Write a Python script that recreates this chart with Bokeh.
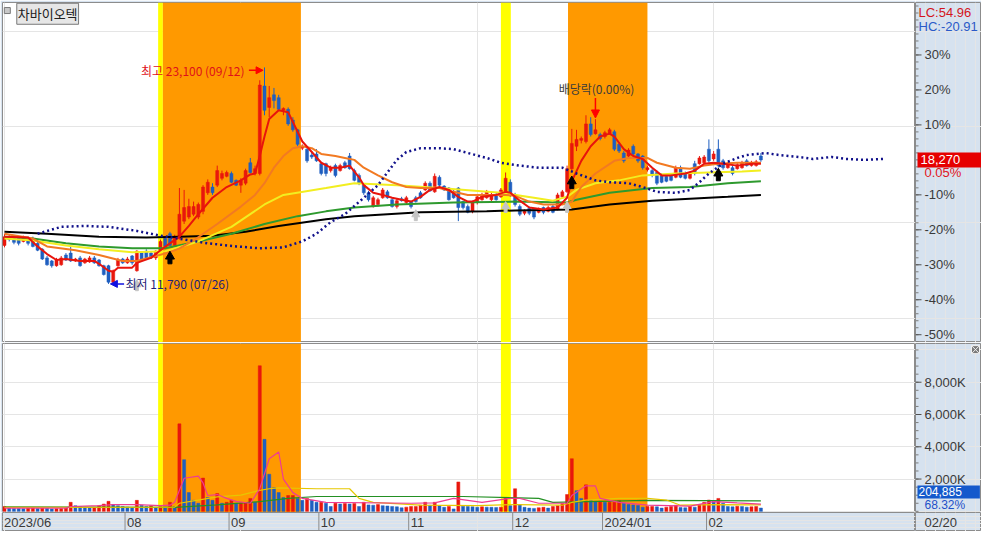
from bokeh.plotting import figure
from bokeh.models import Range1d, Arrow, NormalHead, BoxAnnotation, ColumnDataSource, Label
from bokeh.layouts import column, row
from bokeh.embed import file_html
from bokeh.resources import INLINE
from bokeh.core.properties import value

# ---------------- data ----------------
stock_name = "차바이오텍"
last_price = 18270
last_change_text = "0.05%"
last_volume = 204885
volume_ratio_text = "68.32%"
current_date = "02/20"

hi_idx, hi_val, hi_date = 55, 23100, "09/12"
lo_idx, lo_val, lo_date = 22, 11790, "07/26"
exdiv_idx, exdiv_text = 125, "배당락(0.00%)"

month_idx = [0, 26, 48, 67, 86, 108, 127, 149]
month_lbl = ["2023/06", "08", "09", "10", "11", "12", "2024/01", "02"]

pct_levels = [30, 20, 10, -10, -20, -30, -40, -50]
vol_levels = [2000000, 4000000, 6000000, 8000000]

open_ = [13800,14260,14160,14210,14010,14160,14160,13910,13600,13150,
         12990,12740,12790,13300,13400,12990,13150,12890,12940,13150,
         13040,12740,12740,11880,12740,13090,12890,13250,12480,13400,
         13500,13400,13150,13550,14160,14410,13800,14160,15070,15280,
         15430,15280,15580,16550,16850,16950,17310,17410,17560,17200,
         16950,17050,18120,17560,17560,22130,21010,21670,21520,20860,
         20910,20350,19840,18880,18830,18520,18580,18070,18070,17710,
         17970,17710,18120,18470,17710,17460,16950,16550,15830,15940,
         16290,16600,16190,15830,16240,16040,16090,16290,16550,16700,
         17050,16600,17360,16900,16800,16600,16800,16090,15830,15580,
         16040,16190,16290,16190,16440,16340,16600,17100,16440,15830,
         15480,15730,15580,15530,15780,15580,15830,15680,16340,16600,
         17810,18980,19290,19230,20150,19640,19590,19490,19640,19740,
         19080,18630,18470,18980,18580,18470,17760,17710,17610,17460,
         17410,17460,17360,17860,17560,17310,18070,18070,18120,18830,
         18320,18830,18220,17860,17860,17810,17860,18220,17970,17970,
         18470]
high_ = [14410,14360,14260,14260,14310,14260,14260,14010,13650,13250,
         13040,13150,13250,13400,13750,13150,13250,13150,13250,13250,
         13090,12790,12790,12540,13150,13150,13200,13300,13550,13500,
         13600,13500,13550,14110,14260,14510,14360,16800,16700,16240,
         16090,16040,16950,17250,17050,17970,17710,17710,17660,17250,
         17310,17810,18370,17970,22430,23100,22130,22030,21670,21010,
         21010,20500,19890,19080,18880,18730,18830,18170,18120,17970,
         18070,18070,18220,18630,17810,17560,17050,16650,16390,16290,
         16800,16700,16290,16240,16340,16390,16140,16390,16650,17150,
         17150,17560,17460,16950,16850,16700,16850,16140,15940,16140,
         16440,16550,16700,16550,16550,16800,17610,17250,16550,15940,
         15680,15830,15630,15780,15830,15880,15940,16550,16700,17970,
         19890,19840,19490,20600,20500,20400,19690,19790,19940,19840,
         19180,18730,18880,19080,18630,18520,17970,17810,17710,17560,
         17460,17560,17970,17970,17660,17660,18220,18470,18520,19340,
         18730,19340,18320,18170,17970,18120,18220,18320,18220,18270,
         18630]
low_ = [13700,14010,13860,13800,13960,13800,13700,13500,13040,12740,
        12640,12690,12740,12990,12940,12940,12690,12840,12890,12840,
        12690,12230,11790,11830,12690,12840,12840,12790,12430,12990,
        13090,13090,13040,13500,13700,13750,13750,14110,14920,15170,
        15330,15170,15430,16440,16440,16850,17200,17360,17050,16900,
        16550,16950,17560,17460,17460,20600,20500,20960,20860,20600,
        20050,19740,18980,18780,18120,18320,18170,17460,17410,17610,
        17360,17660,17810,17760,17150,16950,16440,16090,15780,15830,
        16240,16240,15780,15730,16090,15940,15730,16040,16240,16650,
        16600,16550,16900,16650,16140,16240,15070,15680,15480,15480,
        15940,16140,16240,16090,16140,16290,16550,16340,15830,15330,
        15380,15380,15170,15480,15430,15530,15480,15630,16240,16550,
        17710,18730,19130,19130,19490,19590,19290,19390,19590,18730,
        18630,18120,18420,18520,18120,17760,17660,17360,16950,17050,
        17100,17150,17310,17310,17250,17250,17460,18020,18070,18120,
        18220,17860,17760,17810,17460,17760,17810,17920,17920,17920,
        18170]
close_ = [14260,14110,13960,13910,14210,13910,13750,13550,13090,12790,
          12740,13040,13150,13040,12990,13090,12740,13090,13150,12890,
          12740,12280,11880,12480,13040,12890,13090,12890,13500,13040,
          13150,13150,13500,14010,13750,13800,14260,15430,15780,15830,
          15830,15940,16850,17100,16550,17710,17560,17610,17100,16950,
          17200,17710,17610,17810,22180,20860,21520,21370,20910,20960,
          20150,19840,19080,18980,18220,18420,18220,17560,17560,17860,
          17460,17970,17860,17810,17200,17050,16550,16190,16290,16190,
          16700,16290,15830,16140,16140,16290,15830,16090,16290,17050,
          16650,17410,16950,16700,16190,16290,15780,15780,15530,16040,
          16340,16440,16600,16440,16190,16700,17310,16440,15940,15430,
          15580,15480,15280,15680,15530,15780,15530,16440,16600,17810,
          19130,19340,19390,20150,19590,19840,19390,19690,19840,18830,
          18730,18220,18780,18580,18220,17860,17860,17460,17050,17100,
          17150,17200,17860,17360,17310,17560,17560,18370,18420,18220,
          18580,17970,17860,18070,17560,18020,18120,17970,18120,18170,
          18270]
volume_k = [300,200,180,170,160,200,220,180,200,190,
            150,160,170,200,560,350,300,250,200,250,
            350,450,620,420,350,300,260,240,680,380,
            300,350,200,280,260,560,280,5420,3200,1160,
            680,500,2060,860,680,1100,500,560,680,500,
            500,520,800,560,9020,4460,2300,1460,1160,860,
            980,980,800,680,800,680,560,560,500,300,
            500,450,480,450,480,300,560,400,380,420,
            350,330,300,280,220,260,300,300,380,560,
            380,560,350,250,300,150,1820,320,300,280,
            250,280,260,250,240,260,860,350,1400,420,
            250,200,180,220,250,200,300,350,480,1040,
            3260,1280,800,1640,680,620,620,560,560,560,
            660,500,420,400,360,260,300,300,280,200,
            260,300,380,240,220,300,260,420,560,700,
            620,800,500,300,280,320,300,260,280,300,
            204.885]

# moving averages (sparse points)
ma5_idx = [0,5,7,9,11,13,16,19,20,22,23,24,27,28,31,33,35,37,39,41,44,47,50,52,53,54,55,56,58,60,
           61,63,65,67,69,71,73,75,76,78,80,82,84,86,88,90,92,94,96,98,99,101,104,106,107,109,111,114,117,119,
           120,122,124,126,128,129,131,133,135,137,139,141,144,146,148,150,152,155,158,160]
ma5_val = [14260,14210,13750,13350,13040,13090,12990,12990,12840,12480,12430,12640,12640,12890,13150,13550,13910,14260,14820,15430,
           16290,16850,17200,17510,17560,18470,19490,20400,20860,20760,20250,19230,18680,18120,17860,17860,17970,17360,16950,16550,
           16440,16290,16190,16090,16340,16700,16850,16700,16340,16090,16090,16340,16440,16600,16550,16140,15780,15680,15780,16290,
           17150,18220,18980,19490,19640,19490,18830,18470,18320,17860,17460,17460,17560,17710,18070,18120,18070,17970,18070,18070]
ma20_idx = [0,6,9,15,20,25,28,32,35,37,40,45,50,53,55,57,59,61,63,65,67,70,72,74,76,79,82,85,88,92,
            95,98,102,106,108,111,114,118,120,122,125,129,132,136,138,142,145,148,151,155,160]
ma20_val = [14410,14160,13750,13550,13300,12990,12990,13250,13450,13650,14060,14920,15830,16440,17050,17860,18470,18880,18980,18880,
            18580,18470,18370,18270,17860,17460,17100,16850,16800,16800,16600,16440,16440,16440,16390,16090,15940,15940,16090,16850,
            17560,18220,18370,18370,18120,17860,17810,17970,18070,18120,18120]
ma60_idx = [0,6,13,20,27,34,41,48,55,59,68,74,83,92,105,112,116,119,121,125,130,135,142,149,156,160]
ma60_val = [14160,14060,13800,13600,13450,13500,14010,14770,15940,16440,16800,17050,16950,16800,16550,16290,16140,16340,16700,17050,
            17200,17460,17560,17610,17660,17710]
ma120_idx = [0,6,13,20,27,34,41,48,55,62,68,74,83,95,108,119,121,128,137,145,153,160]
ma120_val = [14260,14160,13910,13750,13650,13650,14010,14410,14920,15330,15580,15780,15940,16040,16090,16040,16190,16550,16800,16850,
             17050,17150]
ma240_idx = [0,9,20,30,37,44,51,58,68,74,88,102,108,120,128,137,145,153,160]
ma240_val = [14510,14410,14260,14210,14260,14310,14510,14820,15170,15330,15530,15580,15630,15680,15940,16140,16240,16340,16440]
lead_idx = [7,12,17,22,28,33,38,43,49,54,59,63,66,69,72,76,79,81,83,85,88,92,95,98,102,105,109,113,118,121,
            125,128,132,135,138,142,145,147,149,152,155,157,161,164,168,171,175,178,182,186]
lead_val = [14410,14770,14820,14770,14560,14310,14110,13910,13750,13650,13700,14010,14410,15020,15430,16290,16950,17610,18270,18680,
            18880,18880,18830,18630,18370,18120,17970,17860,17860,17560,17200,17100,17050,16850,16600,16550,16700,17100,17560,18070,
            18370,18520,18630,18520,18420,18320,18420,18320,18270,18320]

vma5_idx = [0,13,14,20,23,28,33,35,36,38,41,42,43,45,47,49,52,54,56,58,59,61,63,68,86,91,95,101,107,109,
            113,119,120,123,125,126,130,136,145,150,155,160]
vma5_k = [200,200,300,350,420,420,350,380,560,2050,2180,1760,980,1040,800,620,500,1400,3260,3680,2000,1160,800,560,500,520,800,560,800,800,
          500,500,980,1580,1580,800,560,380,320,600,520,450]
vma20_idx = [0,36,37,40,45,50,54,56,58,66,73,75,78,88,100,108,118,120,123,130,136,140,143,150,160]
vma20_k = [250,260,500,650,900,1000,1300,1400,1450,1400,1400,800,560,380,350,420,380,550,700,800,800,700,380,420,400]
vma60_idx = [0,36,45,54,60,66,97,113,116,136,160]
vma60_k = [280,250,400,600,800,920,920,800,560,680,650]

# highlighted periods (bar-index ranges)
band_left = [32.5, 33.5, 105.0, 119.2]
band_right = [33.5, 62.7, 107.1, 136.0]
band_color = ["#ffff00", "#ff9900", "#ffff00", "#ff9900"]

# signal arrows
buy_idx = [35, 120, 151]
buy_val = [13120, 17050, 17460]
gray_idx = [28, 87, 106, 119]
gray_val = [11670, 15330, 15760, 15760]

# ---------------- styles ----------------
RED = "#e8170d"
BLUE = "#1f5fc0"
AXIS_BG = "#d6e2ef"
FRAME = "#8c8c8c"
TXT = "#3a3a3a"
MAIN_W = 915
SIDE_W = 66
KR = "Noto Sans CJK KR"
NUM = "Liberation Sans"

xr = Range1d(-0.42, 192.7)
sxr = Range1d(0, SIDE_W)
price_lo, price_hi = 8729, 26492
vol_lo, vol_hi = -72000, 10400000
pyr = Range1d(price_lo, price_hi)
vyr = Range1d(vol_lo, vol_hi)
dyr = Range1d(0, 1)


def make_fig(w, h, x_range, y_range, top, left, bg):
    f = figure(width=w, height=h, x_range=x_range, y_range=y_range, output_backend="svg",
               toolbar_location=None, title=None, x_axis_location=None,
               y_axis_location=None, min_border_left=left, min_border_right=0,
               min_border_top=top, min_border_bottom=0,
               background_fill_color=bg, border_fill_color=AXIS_BG,
               outline_line_color=FRAME, outline_line_width=1)
    return f


def side_axis(f, ticks, labels, minor):
    f.segment(x0=[0] * len(minor), y0=minor, x1=[3] * len(minor), y1=minor,
              line_color="#7c7c7c", line_width=1)
    f.segment(x0=[0] * len(ticks), y0=ticks, x1=[6] * len(ticks), y1=ticks,
              line_color="#505050", line_width=1)
    f.text(x=[9] * len(ticks), y=ticks, text=labels, text_align="left",
           text_baseline="middle", text_color=TXT, text_font=value(NUM),
           text_font_size="13px")


# ---------------- price panel ----------------
p = make_fig(MAIN_W, 342, xr, pyr, 2, 2, "white")
for l, r, c in zip(band_left, band_right, band_color):
    p.add_layout(BoxAnnotation(left=l, right=r, fill_color=c, fill_alpha=1.0,
                               line_color=None, level="underlay"))

n = len(close_)
idx = list(range(n))
col = [RED if c >= o else BLUE for o, c in zip(open_, close_)]
src = ColumnDataSource(dict(x=idx, h=high_, l=low_,
                            top=[max(o, c) for o, c in zip(open_, close_)],
                            bot=[min(o, c) for o, c in zip(open_, close_)],
                            col=col))
p.segment(x0="x", y0="l", x1="x", y1="h", source=src, line_color="col", line_width=1)
p.vbar(x="x", width=0.64, top="top", bottom="bot", source=src,
       fill_color="col", line_color="col", line_width=0.5)

p.line(ma240_idx, ma240_val, line_color="#000000", line_width=2)
p.line(ma120_idx, ma120_val, line_color="#2e9a2e", line_width=2)
p.line(ma60_idx, ma60_val, line_color="#f2ee20", line_width=2)
p.line(ma20_idx, ma20_val, line_color="#f27a22", line_width=2)
p.line(ma5_idx, ma5_val, line_color="#e8140c", line_width=2)
p.line(lead_idx, lead_val, line_color="#10108a", line_width=2.5, line_dash="2 3")

# signal arrows
p.scatter(buy_idx, [v + 105 for v in buy_val], marker="triangle", size=9,
          fill_color="black", line_color="black")
p.rect(buy_idx, [v - 150 for v in buy_val], width=4, height=5,
       width_units="screen", height_units="screen", fill_color="black", line_color="black")
p.scatter(gray_idx, [v + 90 for v in gray_val], marker="triangle", size=8,
          fill_color="#c4c4c4", line_color="#c4c4c4")
p.rect(gray_idx, [v - 130 for v in gray_val], width=3, height=4,
       width_units="screen", height_units="screen", fill_color="#c4c4c4", line_color="#c4c4c4")

# high / low / ex-dividend annotations
p.text(x=[hi_idx], y=[hi_val], text=[f"최고 {hi_val:,} ({hi_date})"], text_align="right",
       text_baseline="middle", x_offset=-20, y_offset=3, text_color="#e0101a",
       text_font=value(KR), text_font_size="12px")
p.add_layout(Arrow(end=NormalHead(size=7, fill_color="#ff0000", line_color="#ff0000"),
                   x_start=hi_idx - 3.3, y_start=hi_val - 150, x_end=hi_idx - 0.3,
                   y_end=hi_val - 150, line_color="#ff0000", line_width=1.5))
p.text(x=[lo_idx], y=[lo_val], text=[f"최저 {lo_val:,} ({lo_date})"], text_align="left",
       text_baseline="middle", x_offset=17, y_offset=0, text_color="#1e1e78",
       text_font=value(KR), text_font_size="12px")
p.add_layout(Arrow(end=NormalHead(size=7, fill_color="#1010e0", line_color="#1010e0"),
                   x_start=lo_idx + 3.3, y_start=lo_val, x_end=lo_idx + 0.4,
                   y_end=lo_val, line_color="#1010e0", line_width=1.5))
ex_hi = high_[exdiv_idx]
p.text(x=[exdiv_idx], y=[ex_hi + 1150], text=[exdiv_text], text_align="center",
       text_baseline="bottom", x_offset=1, y_offset=0, text_color="#3c3c3c",
       text_font=value(KR), text_font_size="12px")
p.add_layout(Arrow(end=NormalHead(size=8, fill_color="#ff0000", line_color="#ff0000"),
                   x_start=exdiv_idx, y_start=ex_hi + 1100, x_end=exdiv_idx,
                   y_end=ex_hi + 60, line_color="#ff0000", line_width=1.5))

# name box
p.scatter([0.6], [price_hi - 420], marker="square", size=6, fill_color="#c8c8c8", line_color="#7a7a7a")
p.add_layout(Label(x=2.6, y=price_hi - 40, text=stock_name, text_baseline="top",
                   text_font=KR, text_font_size="13px", text_color="#202020",
                   background_fill_color="#e6e6e6", border_line_color="#7a7a7a",
                   padding=1))

# price side panel (percent scale relative to the last price)
ps = make_fig(SIDE_W, 342, sxr, pyr, 2, 0, AXIS_BG)
pticks = [last_price * (1 + k / 100) for k in pct_levels]
pminor = [last_price * (1 + k / 100) for k in range(-52, 46, 2)]
side_axis(ps, pticks, [f"{k}%" for k in pct_levels], pminor)
lc = (last_price - lo_val) / lo_val * 100
hc = (last_price - hi_val) / hi_val * 100
ps.text(x=[3, 3], y=[price_hi, price_hi], text=[f"LC:{lc:.2f}", f"HC:{hc:.2f}"],
        text_align="left", text_baseline="top", y_offset=[2, 16],
        text_color=["#d4141c", "#2a5ac8"], text_font=value(NUM), text_font_size="13px")
ps.rect(x=[34], y=[last_price], width=[64], height=[15], height_units="screen",
        fill_color="#e60000", line_color=None)
ps.text(x=[5], y=[last_price], text=[f"{last_price:,}"], text_align="left",
        text_baseline="middle", text_color="white", text_font=value(NUM), text_font_size="13px")
ps.text(x=[9], y=[last_price], text=[last_change_text], text_align="left",
        text_baseline="middle", y_offset=13, text_color="#e0141c",
        text_font=value(NUM), text_font_size="13px")

# ---------------- volume panel ----------------
pv = make_fig(MAIN_W, 170, xr, vyr, 1, 2, "white")
for l, r, c in zip(band_left, band_right, band_color):
    pv.add_layout(BoxAnnotation(left=l, right=r, fill_color=c, fill_alpha=1.0,
                                line_color=None, level="underlay"))
vol = [v * 1000 for v in volume_k]
vcol = [RED if (i == 0 or vol[i] >= vol[i - 1]) else BLUE for i in range(n)]
pv.vbar(x=idx, width=0.64, top=vol, bottom=0, fill_color=vcol, line_color=vcol, line_width=0.5)
pv.line(vma60_idx, [v * 1000 for v in vma60_k], line_color="#239023", line_width=1.2)
pv.line(vma20_idx, [v * 1000 for v in vma20_k], line_color="#e6c700", line_width=1.2)
pv.line(vma5_idx, [v * 1000 for v in vma5_k], line_color="#ee3c92", line_width=1.2)

pvs = make_fig(SIDE_W, 170, sxr, vyr, 1, 0, AXIS_BG)
side_axis(pvs, vol_levels, [f"{t // 1000:,}K" for t in vol_levels],
          list(range(0, 10500000, 500000)))
# current-volume box and ratio sit just above the bottom edge
pvs.text(x=[2], y=[vol_lo], text=[f"{last_volume:,}"], text_align="left",
         text_baseline="bottom", y_offset=-14, text_color="white",
         text_font=value(NUM), text_font_size="12px",
         background_fill_color="#1459cc", padding=(1, 18, 1, 3))
pvs.text(x=[9], y=[vol_lo], text=[volume_ratio_text], text_align="left",
         text_baseline="bottom", y_offset=-1, text_color="#1e50c8",
         text_font=value(NUM), text_font_size="12px")
pvs.scatter([60], [vol_hi - 380000], marker="square_x", size=8,
            fill_color="#7a7a7a", line_color="#f0f0f0")

# ---------------- date strip ----------------
pdt = make_fig(MAIN_W, 19, xr, dyr, 0, 2, AXIS_BG)
sep = [m - 0.5 for m in month_idx]
pdt.segment(x0=sep, y0=[0] * len(sep), x1=sep, y1=[1] * len(sep), line_color=FRAME, line_width=1)
pdt.text(x=sep, y=[0.5] * len(sep), text=month_lbl, text_align="left", text_baseline="middle",
         x_offset=2, text_color=TXT, text_font=value(NUM), text_font_size="13px")
pds = make_fig(SIDE_W, 19, sxr, dyr, 0, 0, AXIS_BG)
pds.text(x=[9], y=[0.5], text=[current_date], text_align="left", text_baseline="middle",
         text_color=TXT, text_font=value(NUM), text_font_size="13px")

layout = column(row(p, ps, spacing=0), row(pv, pvs, spacing=0), row(pdt, pds, spacing=0), spacing=0)
open("out.html", "w").write(file_html(layout, INLINE))
